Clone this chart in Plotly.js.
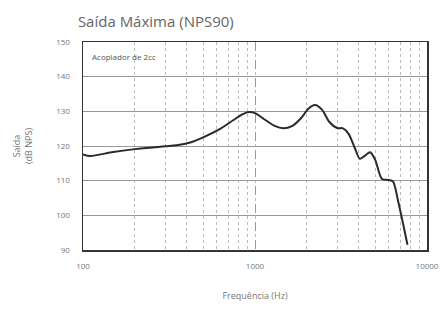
<!DOCTYPE html>
<html>
<head>
<meta charset="utf-8">
<script src="https://cdn.plot.ly/plotly-3.0.1.min.js"></script>
<style>html,body{margin:0;padding:0;background:#fff;}#chart{width:445px;height:316px;}</style>
</head>
<body>
<div id="chart"></div>
<script>
var freqHz = [100, 110, 150, 200, 300, 350, 420, 500, 630, 750, 850, 920, 1000, 1150, 1300, 1460, 1650, 1850, 2050, 2230, 2450, 2700, 3000, 3250, 3500, 3800, 4070, 4350, 4670, 5000, 5470, 6000, 6340, 6800, 7300, 7700];
var outputDb = [117.6, 117.1, 118.3, 119.1, 119.9, 120.2, 121.0, 122.5, 125.0, 127.5, 129.2, 129.8, 129.5, 127.5, 125.8, 125.1, 125.8, 128.0, 130.8, 131.8, 130.5, 127.0, 125.2, 125.1, 123.5, 119.5, 116.3, 117.2, 118.2, 116.0, 110.5, 110.2, 109.8, 104.0, 97.0, 91.5];
var yTicks = [90, 100, 110, 120, 130, 140, 150];
var xTicks = [100, 1000, 10000];
var legendText = "Acoplador de 2cc";

var trace = {
  x: freqHz, y: outputDb, type: 'scatter', mode: 'lines',
  line: {color: '#2a2a2a', width: 2, shape: 'spline', smoothing: 0.8},
  hoverinfo: 'skip', showlegend: false
};
var layout = {
  width: 445, height: 316,
  margin: {l: 83, r: 18, t: 42, b: 66},
  paper_bgcolor: '#fff', plot_bgcolor: '#fff',
  font: {family: 'Open Sans, DejaVu Sans, sans-serif', color: '#777', size: 9},
  title: {text: 'Saída Máxima (NPS90)', x: 0.175, xanchor: 'left', y: 0.93, yanchor: 'middle',
          font: {size: 15, color: '#666'}},
  xaxis: {
    type: 'log', range: [2, 4], tickvals: xTicks, ticktext: xTicks.map(String),
    showgrid: true, gridcolor: '#999', gridwidth: 1, griddash: 'dash',
    minor: {dtick: 'D1', showgrid: true, gridcolor: '#bbb', gridwidth: 1, griddash: 'dot'},
    showline: true, linecolor: '#333', linewidth: 1.5, mirror: true,
    ticks: '', ticklabelstandoff: 8, tickfont: {size: 8, color: '#777'},
    title: {text: 'Frequência (Hz)', font: {size: 9, color: '#777'}, standoff: 22},
    zeroline: false
  },
  yaxis: {
    range: [90, 150], tickvals: yTicks, ticktext: yTicks.map(String),
    showgrid: true, gridcolor: '#999', gridwidth: 1,
    showline: true, linecolor: '#333', linewidth: 1.5, mirror: true,
    ticks: '', ticklabelstandoff: 10, tickfont: {size: 8, color: '#777'},
    title: {text: 'Saída<br>(dB NPS)', font: {size: 9, color: '#777'}, standoff: 22},
    zeroline: false
  },
  annotations: [{
    text: legendText, xref: 'paper', yref: 'paper', x: 0.02, y: 0.93,
    xanchor: 'left', yanchor: 'middle', showarrow: false,
    font: {size: 8, color: '#555'}
  }]
};
Plotly.newPlot('chart', [trace], layout, {displayModeBar: false, staticPlot: true});
</script>
</body>
</html>
